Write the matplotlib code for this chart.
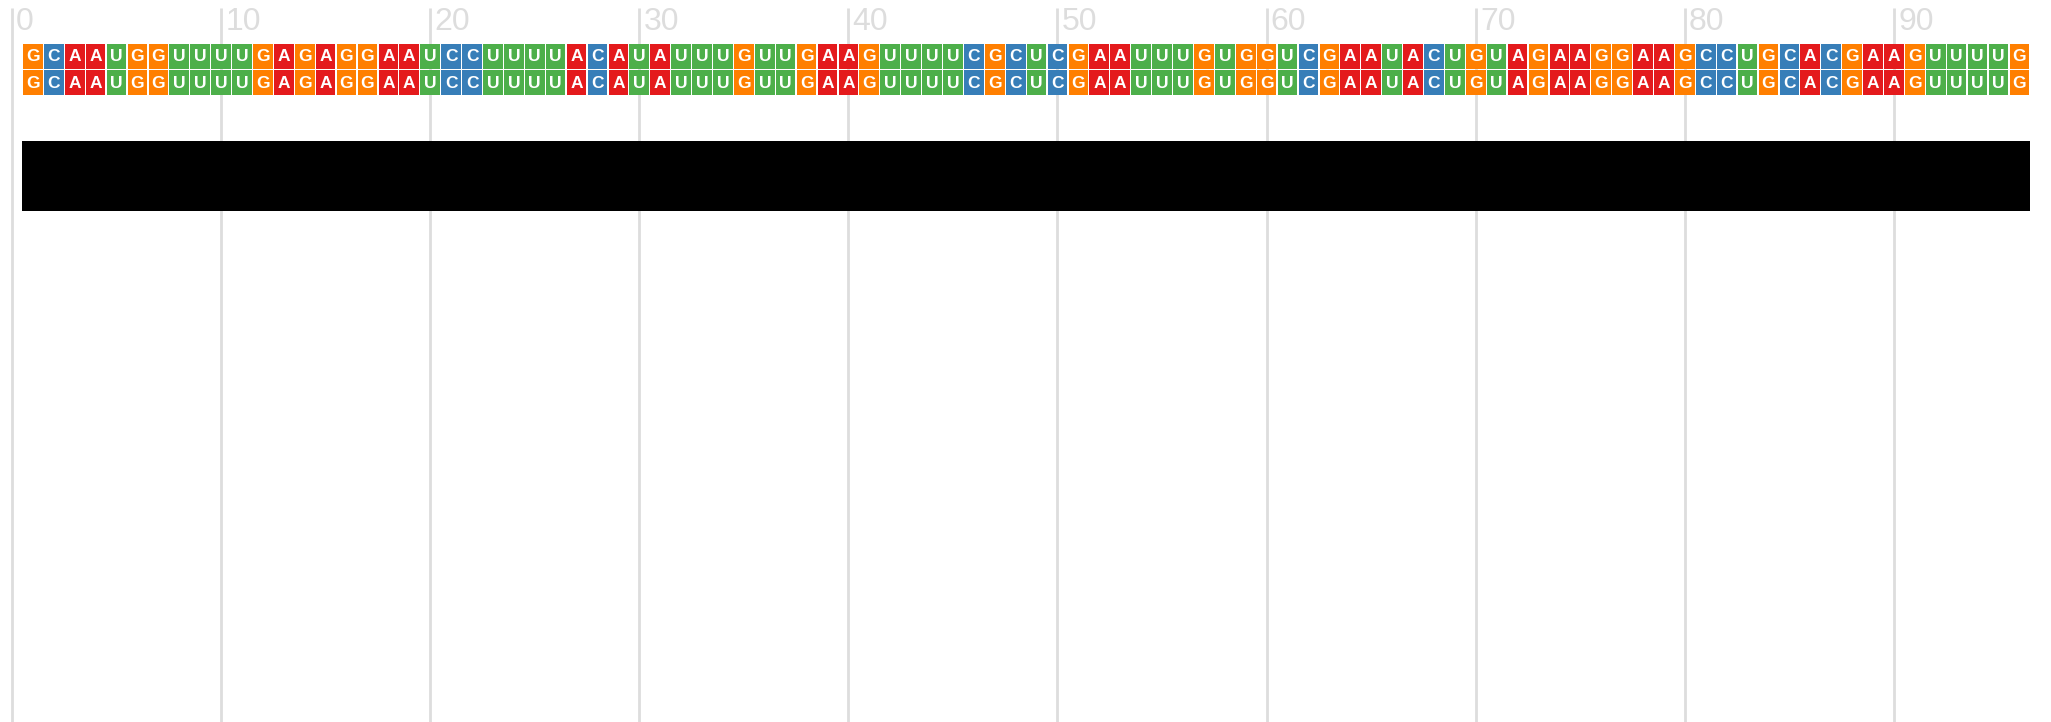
import matplotlib.pyplot as plt
from matplotlib.patches import Rectangle

# secuencia (dos filas idénticas) y colores por base
secuencia_1 = "GCAAUGGUUUUGAGAGGAAUCCUUUUACAUAUUUGUUGAAGUUUUCGCUCGAAUUUGUGGUCGAAUACUGUAGAAGGAAGCCUGCACGAAGUUUUG"
secuencia_2 = "GCAAUGGUUUUGAGAGGAAUCCUUUUACAUAUUUGUUGAAGUUUUCGCUCGAAUUUGUGGUCGAAUACUGUAGAAGGAAGCCUGCACGAAGUUUUG"
colores_base = {'A': '#e41a1c', 'C': '#377eb8', 'G': '#ff7f00', 'U': '#4daf4a'}
ticks_x = [0, 10, 20, 30, 40, 50, 60, 70, 80, 90]
barra_inicio, barra_fin = 0.5, 96.5

plt.rcParams['font.family'] = ['Liberation Sans', 'DejaVu Sans']

fig = plt.figure(figsize=(20.51, 7.22), dpi=100)
ax = fig.add_axes([0, 0, 1, 1])
escala = 20.91  # px por posición
ax.set_xlim(-12 / escala, (2051 - 12) / escala)
ax.set_ylim(722, 0)
ax.axis('off')

# rejilla vertical y etiquetas
ax.vlines(ticks_x, 8, 722, color='#dddddd', linewidth=2, zorder=0)
for t in ticks_x:
    ax.text(t + 0.2, 7, str(t), color='#dddddd', fontsize=23, ha='left', va='top')

# filas de bases
filas = [(secuencia_1, 44.0, 24.5), (secuencia_2, 70.3, 24.5)]
for seq, y0, alto in filas:
    for i, base in enumerate(seq):
        pos = i + 1
        ax.add_patch(Rectangle((pos - 0.47, y0), 0.94, alto,
                               facecolor=colores_base[base], edgecolor='none', zorder=2))
        ax.text(pos, y0 + alto / 2 + 0.5, base, color='white', fontsize=12.5,
                fontweight='bold', ha='center', va='center', zorder=3)

# barra negra
ax.add_patch(Rectangle((barra_inicio, 141), barra_fin - barra_inicio, 70,
                       facecolor='black', edgecolor='none', zorder=2))

fig.savefig("out.png", dpi=100)
